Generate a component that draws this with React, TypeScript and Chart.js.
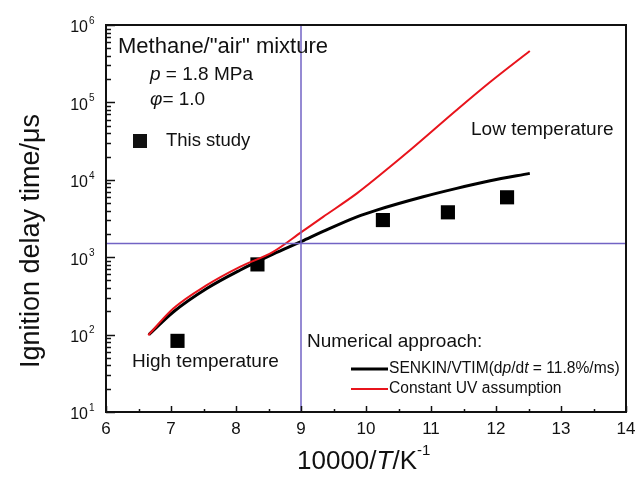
import React, { useEffect, useRef } from "react";
import { Chart, registerables } from "chart.js";

Chart.register(...registerables);

const xTicks = [6, 7, 8, 9, 10, 11, 12, 13, 14];
const yTickExps = [1, 2, 3, 4, 5, 6];

const studyX = [7.1, 8.33, 10.26, 11.26, 12.17];
const studyY = [83, 807, 3020, 3800, 5940];

const senkinX = [6.66, 7.035, 7.55, 8.06, 8.57, 9.01, 9.34, 9.86, 10.165, 10.88, 11.395, 11.91, 12.52];
const senkinY = [100, 196, 394, 679, 1094, 1600, 2150, 3320, 4055, 6030, 7740, 9700, 12100];

const uvX = [6.65, 7.035, 7.55, 8.06, 8.57, 9.01, 9.34, 9.86, 10.37, 10.68, 11.395, 11.91, 12.52];
const uvY = [98, 217, 435, 750, 1172, 2123, 3320, 6670, 14700, 24200, 79600, 183000, 461000];

const refX = 9;
const refY = 1500;

const FONT = "'Liberation Sans', Arial, sans-serif";
const PURPLE = "#7263c4";

const pts = (xs: number[], ys: number[]) => xs.map((x, i) => ({ x, y: ys[i] }));

const decorPlugin = {
  id: "decor",
  afterDatasetsDraw(chart: any) {
    const { ctx, chartArea: a, scales } = chart;
    const xs = scales.x;
    const ys = scales.y;
    ctx.save();
    ctx.fillStyle = "#111";
    ctx.strokeStyle = "#111";

    // frame
    ctx.lineWidth = 2;
    ctx.strokeRect(a.left, a.top, a.right - a.left, a.bottom - a.top);

    // y ticks (inward)
    ctx.lineWidth = 1.5;
    for (let e = 1; e <= 6; e++) {
      for (let m = 1; m <= 9; m++) {
        if (e === 6 && m > 1) break;
        const v = m * Math.pow(10, e);
        const py = Math.round(ys.getPixelForValue(v)) + 0.5;
        const len = m === 1 ? 9 : 5;
        ctx.beginPath();
        ctx.moveTo(a.left, py);
        ctx.lineTo(a.left + len, py);
        ctx.stroke();
      }
    }
    // x ticks (inward)
    for (let v = 6; v <= 14; v += 0.5) {
      const px = Math.round(xs.getPixelForValue(v)) + 0.5;
      const len = Number.isInteger(v) ? 6 : 3;
      ctx.beginPath();
      ctx.moveTo(px, a.bottom);
      ctx.lineTo(px, a.bottom - len);
      ctx.stroke();
    }

    // x tick labels
    ctx.font = `17px ${FONT}`;
    ctx.textAlign = "center";
    ctx.textBaseline = "middle";
    xTicks.forEach((v) => {
      ctx.fillText(String(v), xs.getPixelForValue(v), a.bottom + 17);
    });

    // y tick labels 10^n
    yTickExps.forEach((e) => {
      const py = ys.getPixelForValue(Math.pow(10, e));
      ctx.font = `16px ${FONT}`;
      ctx.textAlign = "right";
      ctx.textBaseline = "middle";
      ctx.fillText("10", 88, py + 3);
      ctx.font = `10px ${FONT}`;
      ctx.textAlign = "left";
      ctx.fillText(String(e), 89, py - 4);
    });

    // axis titles
    ctx.save();
    ctx.translate(32, 241);
    ctx.rotate(-Math.PI / 2);
    ctx.font = `27px ${FONT}`;
    ctx.textAlign = "center";
    ctx.textBaseline = "middle";
    ctx.fillText("Ignition delay time/\u03bcs", 0, 0);
    ctx.restore();

    const drawRuns = (x: number, y: number, runs: { t: string; f: string; dy?: number }[]) => {
      let cx = x;
      ctx.textAlign = "left";
      ctx.textBaseline = "middle";
      runs.forEach((r) => {
        ctx.font = r.f;
        ctx.fillText(r.t, cx, y + (r.dy || 0));
        cx += ctx.measureText(r.t).width;
      });
      return cx;
    };

    drawRuns(297, 462, [
      { t: "10000/", f: `26px ${FONT}` },
      { t: "T", f: `italic 26px ${FONT}` },
      { t: "/K", f: `26px ${FONT}` },
      { t: "-1", f: `15px ${FONT}`, dy: -11 },
    ]);

    // annotations
    drawRuns(118, 47, [{ t: "Methane/\"air\" mixture", f: `22px ${FONT}` }]);
    drawRuns(150, 75, [
      { t: "p", f: `italic 19px ${FONT}` },
      { t: " = 1.8 MPa", f: `19px ${FONT}` },
    ]);
    drawRuns(150, 100, [
      { t: "\u03c6", f: `italic 19px ${FONT}` },
      { t: "= 1.0", f: `19px ${FONT}` },
    ]);
    // legend: This study
    ctx.fillRect(133, 134, 14, 14);
    drawRuns(166, 141, [{ t: "This study", f: `18.5px ${FONT}` }]);

    drawRuns(471, 130, [{ t: "Low temperature", f: `19px ${FONT}` }]);
    drawRuns(132, 362, [{ t: "High temperature", f: `19px ${FONT}` }]);
    drawRuns(307, 342, [{ t: "Numerical approach:", f: `19px ${FONT}` }]);

    // line legend
    ctx.lineWidth = 3;
    ctx.strokeStyle = "#000";
    ctx.beginPath();
    ctx.moveTo(351, 369);
    ctx.lineTo(388, 369);
    ctx.stroke();
    ctx.lineWidth = 2;
    ctx.strokeStyle = "#e8141c";
    ctx.beginPath();
    ctx.moveTo(351, 389);
    ctx.lineTo(388, 389);
    ctx.stroke();
    const lf = "15.6px";
    drawRuns(389, 369, [
      { t: "SENKIN/VTIM(d", f: `${lf} ${FONT}` },
      { t: "p", f: `italic ${lf} ${FONT}` },
      { t: "/d", f: `${lf} ${FONT}` },
      { t: "t", f: `italic ${lf} ${FONT}` },
      { t: " = 11.8%/ms)", f: `${lf} ${FONT}` },
    ]);
    drawRuns(389, 389, [{ t: "Constant UV assumption", f: `${lf} ${FONT}` }]);

    ctx.restore();
  },
};

export default function App() {
  const ref = useRef<HTMLCanvasElement | null>(null);
  useEffect(() => {
    document.body.style.margin = "0";
    const chart = new Chart(ref.current as HTMLCanvasElement, {
      type: "scatter",
      data: {
        datasets: [
          {
            label: "vref",
            data: [{ x: refX, y: 10 }, { x: refX, y: 1e6 }],
            showLine: true,
            borderColor: PURPLE,
            borderWidth: 1.5,
            pointRadius: 0,
          },
          {
            label: "href",
            data: [{ x: 6, y: refY }, { x: 14, y: refY }],
            showLine: true,
            borderColor: PURPLE,
            borderWidth: 1.5,
            pointRadius: 0,
          },
          {
            label: "Constant UV assumption",
            data: pts(uvX, uvY),
            showLine: true,
            borderColor: "#e8141c",
            borderWidth: 2,
            pointRadius: 0,
            cubicInterpolationMode: "monotone",
          },
          {
            label: "SENKIN/VTIM",
            data: pts(senkinX, senkinY),
            showLine: true,
            borderColor: "#000",
            borderWidth: 3,
            pointRadius: 0,
            cubicInterpolationMode: "monotone",
          },
          {
            label: "This study",
            data: pts(studyX, studyY),
            showLine: false,
            pointStyle: "rect",
            pointRadius: 10,
            backgroundColor: "#000",
            borderColor: "#000",
            borderWidth: 0,
          },
        ],
      },
      options: {
        animation: false,
        responsive: false,
        maintainAspectRatio: false,
        layout: { padding: { left: 106, right: 10, top: 25, bottom: 70 } },
        plugins: { legend: { display: false }, tooltip: { enabled: false } },
        scales: {
          x: { type: "linear", min: 6, max: 14, display: false },
          y: { type: "logarithmic", min: 10, max: 1e6, display: false },
        },
      },
      plugins: [decorPlugin],
    } as any);
    return () => chart.destroy();
  }, []);
  return (
    <div style={{ position: "absolute", left: 0, top: 0, width: 636, height: 482, background: "#fff" }}>
      <canvas ref={ref} width={636} height={482} />
    </div>
  );
}
